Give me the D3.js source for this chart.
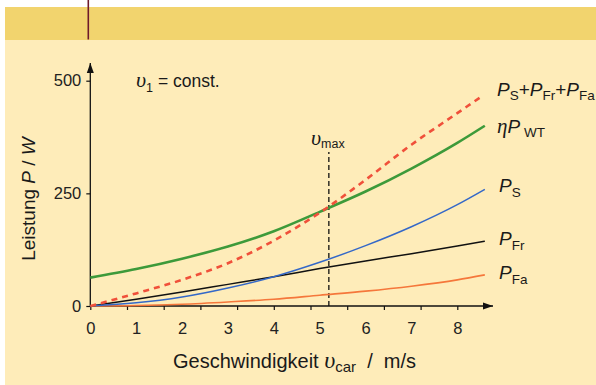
<!DOCTYPE html>
<html>
<head>
<meta charset="utf-8">
<script src="https://cdn.jsdelivr.net/npm/d3@7"></script>
<style>
  html, body { margin: 0; padding: 0; background: #ffffff; }
  svg { display: block; font-family: "Liberation Sans", Arial, sans-serif; }
</style>
</head>
<body>
<svg id="chart" width="596" height="385"></svg>
<script>
// Speed samples (m/s) and the power curves (W) drawn over them
const speeds   = [0, 1, 2, 3, 4, 5, 6, 7, 8, 8.6];
const etaPWT   = [63, 82, 105, 132, 166, 209, 254, 305, 362, 400];
const pS       = [0, 7, 20, 40, 65, 97, 134, 176, 225, 259];
const pFr      = [0, 15, 31, 48, 65, 83, 100, 116, 133, 144];
const pFa      = [0, 1, 4, 9, 15, 24, 33, 44, 58, 69];
const sumSpeeds = [0, 1, 2, 3, 4, 5, 6, 7, 8, 8.5];
const pSum     = [0, 28, 58, 95, 145, 207, 280, 358, 428, 463];

const xTickLabels = [0, 1, 2, 3, 4, 5, 6, 7, 8];
const xTickMarks  = [0, 0.8, 1.6, 2.4, 3.2, 4, 4.8, 5.6, 6.4, 7.2, 8];
const yTickLabels = [0, 250, 500];

const vMax = 5.2;        // marked maximum speed
const vMaxTop = 342;     // power level where the v_max marker ends

const svg = d3.select("#chart");

// page background: header band and panel
svg.append("rect").attr("x", 5).attr("y", 7).attr("width", 591).attr("height", 33).attr("fill", "#f2d46e");
svg.append("rect").attr("x", 5).attr("y", 40).attr("width", 591).attr("height", 345).attr("fill", "#feecb9");
svg.append("line").attr("x1", 88.3).attr("x2", 88.3).attr("y1", 0).attr("y2", 39.5)
  .attr("stroke", "#6e1a2a").attr("stroke-width", 1.6);

const x = d3.scaleLinear().domain([0, 8]).range([90.3, 457.3]);
const y = d3.scaleLinear().domain([0, 500]).range([306, 80.7]);

// arrow heads
const defs = svg.append("defs");
defs.append("marker").attr("id", "arrow").attr("viewBox", "0 0 10 10")
  .attr("refX", 10).attr("refY", 5).attr("markerWidth", 10).attr("markerHeight", 10)
  .attr("markerUnits", "userSpaceOnUse").attr("orient", "auto")
  .append("path").attr("d", "M0,1.5 L10,5 L0,8.5 Z").attr("fill", "#111");

// axis lines with arrows
svg.append("line").attr("x1", x(0)).attr("x2", x(0)).attr("y1", y(0)).attr("y2", 63)
  .attr("stroke", "#111").attr("stroke-width", 1.3).attr("marker-end", "url(#arrow)");
svg.append("line").attr("x1", x(0)).attr("x2", 493).attr("y1", y(0)).attr("y2", y(0))
  .attr("stroke", "#111").attr("stroke-width", 1.3).attr("marker-end", "url(#arrow)");

// y axis ticks + labels
const yAxis = svg.append("g").attr("transform", `translate(${x(0)},0)`)
  .call(d3.axisLeft(y).tickValues(yTickLabels).tickSize(4).tickPadding(5).tickFormat(d3.format("d")));
yAxis.select(".domain").remove();
yAxis.selectAll("line").attr("stroke", "#111").attr("stroke-width", 1.2);
yAxis.selectAll("text").attr("font-size", 16.5).attr("fill", "#222")
  .attr("font-family", "'Liberation Sans', Arial, sans-serif");

// x axis tick marks (every 0.8 m/s)
const xMarks = svg.append("g").attr("transform", `translate(0,${y(0)})`)
  .call(d3.axisBottom(x).tickValues(xTickMarks).tickSize(4).tickFormat(""));
xMarks.select(".domain").remove();
xMarks.selectAll("line").attr("stroke", "#111").attr("stroke-width", 1.2);

// x axis labels
const xLabels = svg.append("g").attr("transform", `translate(0,${y(0)})`)
  .call(d3.axisBottom(x).tickValues(xTickLabels).tickSize(0).tickPadding(16).tickFormat(d3.format("d")));
xLabels.select(".domain").remove();
xLabels.selectAll("text").attr("font-size", 16.5).attr("fill", "#222")
  .attr("font-family", "'Liberation Sans', Arial, sans-serif");

// v_max marker
svg.append("line").attr("x1", x(vMax)).attr("x2", x(vMax)).attr("y1", y(0)).attr("y2", y(vMaxTop))
  .attr("stroke", "#111").attr("stroke-width", 1.3).attr("stroke-dasharray", "5,3");

// curves
const line = d3.line().x(d => x(d[0])).y(d => y(d[1])).curve(d3.curveMonotoneX);
const series = [
  { xs: speeds, ys: pFa, color: "#f5773b", width: 1.6 },
  { xs: speeds, ys: pFr, color: "#111111", width: 1.5 },
  { xs: speeds, ys: pS, color: "#3468c8", width: 1.5 },
  { xs: speeds, ys: etaPWT, color: "#3d9a3a", width: 2.6 },
  { xs: sumSpeeds, ys: pSum, color: "#f0503a", width: 2.6, dash: "6,5" }
];
series.forEach(s => {
  svg.append("path")
    .datum(s.xs.map((v, i) => [v, s.ys[i]]))
    .attr("d", line)
    .attr("fill", "none")
    .attr("stroke", s.color)
    .attr("stroke-width", s.width)
    .attr("stroke-dasharray", s.dash || null);
});

// text helpers
const serifItalic = "'Liberation Serif', 'DejaVu Serif', serif";

function powerLabel(px, py, parts) {
  const t = svg.append("text").attr("x", px).attr("y", py).attr("fill", "#1a1a1a");
  parts.forEach(p => {
    const ts = t.append("tspan").text(p.text);
    if (p.italic) ts.attr("font-style", "italic");
    if (p.serif) ts.attr("font-family", serifItalic);
    ts.attr("font-size", p.size || 19);
    if (p.dy) ts.attr("dy", p.dy);
    if (p.dx) ts.attr("dx", p.dx);
  });
  return t;
}

// curve labels
powerLabel(497, 96, [
  { text: "P", italic: true }, { text: "S", size: 13.5, dy: 4 },
  { text: "+", dy: -4 }, { text: "P", italic: true }, { text: "Fr", size: 13.5, dy: 4 },
  { text: "+", dy: -4 }, { text: "P", italic: true }, { text: "Fa", size: 13.5, dy: 4 }
]);
powerLabel(497, 133, [
  { text: "η", italic: true, serif: true, size: 21 }, { text: "P", italic: true },
  { text: "WT", size: 13.5, dy: 4, dx: 4 }
]);
powerLabel(499, 192, [{ text: "P", italic: true }, { text: "S", size: 13.5, dy: 5 }]);
powerLabel(499, 245, [{ text: "P", italic: true }, { text: "Fr", size: 13.5, dy: 5 }]);
powerLabel(499, 279, [{ text: "P", italic: true }, { text: "Fa", size: 13.5, dy: 5 }]);

// v_max label
powerLabel(311, 145, [
  { text: "υ", italic: true, serif: true, size: 22 }, { text: "max", size: 12.5, dy: 3 }
]);

// v_1 = const.
powerLabel(136, 87, [
  { text: "υ", italic: true, serif: true, size: 22 }, { text: "1", size: 12.5, dy: 5 },
  { text: " = const.", size: 17.5, dy: -5 }
]);

// axis titles
const yTitle = svg.append("text").attr("transform", "translate(35,199) rotate(-90)")
  .attr("text-anchor", "middle").attr("fill", "#1a1a1a").attr("font-size", 19);
yTitle.append("tspan").text("Leistung ");
yTitle.append("tspan").text("P").attr("font-style", "italic");
yTitle.append("tspan").text(" / ");
yTitle.append("tspan").text("W").attr("font-style", "italic");

powerLabel(173, 368, [
  { text: "Geschwindigkeit ", size: 20 },
  { text: "υ", italic: true, serif: true, size: 24 },
  { text: "car", size: 15, dy: 4 },
  { text: "  /  m/s", size: 20, dy: -4 }
]).attr("xml:space", "preserve").style("white-space", "pre");
</script>
</body>
</html>
